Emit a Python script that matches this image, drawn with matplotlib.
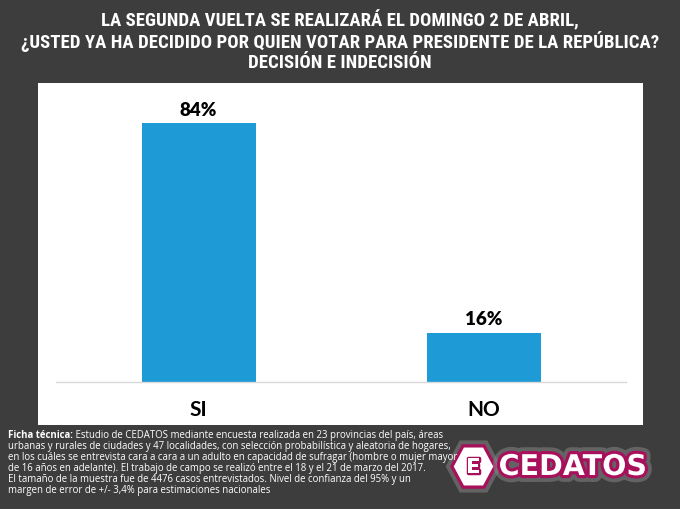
import matplotlib
matplotlib.use("Agg")
import matplotlib.pyplot as plt
from matplotlib.patches import Rectangle, Polygon
import matplotlib.patheffects as pe
from matplotlib import font_manager

categories = ["SI", "NO"]
values = [84, 16]
value_labels = ["84%", "16%"]

title_lines = [
    "LA SEGUNDA VUELTA SE REALIZARÁ EL DOMINGO 2 DE ABRIL,",
    "¿USTED YA HA DECIDIDO POR QUIEN VOTAR PARA PRESIDENTE DE LA REPÚBLICA?",
    "DECISIÓN E INDECISIÓN",
]
note_bold = "Ficha técnica:"
note_lines = [
    " Estudio de CEDATOS mediante encuesta realizada en 23 provincias del país, áreas",
    "urbanas y rurales de ciudades y 47 localidades, con selección probabilística y aleatoria de hogares,",
    "en los cuáles se entrevista cara a cara a un adulto en capacidad de sufragar (hombre o mujer mayor",
    "de 16 años en adelante). El trabajo de campo se realizó entre el 18 y el 21 de marzo del 2017.",
    "El tamaño de la muestra fue de 4476 casos entrevistados. Nivel de confianza del 95% y un",
    "margen de error de +/- 3,4% para estimaciones nacionales",
]

W, H = 680, 510
BG = "#3d3d3d"
BAR = "#1e9bd7"
MAG = "#a8105c"

names = {f.name for f in font_manager.fontManager.ttflist}
narrow = None
for cand in ["Liberation Sans Narrow", "DejaVu Sans Condensed", "Roboto Condensed",
             "Open Sans Condensed", "Noto Sans Condensed", "Roboto", "Liberation Sans"]:
    if cand in names:
        narrow = cand
        break
narrow_fam = [narrow, "DejaVu Sans"] if narrow else ["DejaVu Sans"]

fig = plt.figure(figsize=(W / 100, H / 100), dpi=100, facecolor=BG)

def fx(x):
    return x / W

def fy(y):
    return 1 - y / H

# white panel
fig.patches.append(Rectangle((fx(38), fy(426)), fx(643) - fx(38), fy(84) - fy(426),
                             transform=fig.transFigure, facecolor="white",
                             edgecolor="none", zorder=-5))

# axes
ax_bottom, ax_top = 383, 106
ax = fig.add_axes([fx(56), fy(ax_bottom), fx(626) - fx(56), fy(ax_top) - fy(ax_bottom)])
ax.set_zorder(2)
ax.set_facecolor("none")
x = list(range(len(categories)))
ax.bar(x, values, width=0.4, color=BAR, zorder=2)
ax.set_xlim(-0.5, len(categories) - 0.5)
ax.set_ylim(0, 90)
for s in ["top", "left", "right"]:
    ax.spines[s].set_visible(False)
ax.spines["bottom"].set_color("#d9d9d9")
ax.spines["bottom"].set_linewidth(1.0)
ax.set_yticks([])
ax.set_xticks(x)
ax.set_xticklabels(categories, fontsize=15, fontweight="bold",
                   family=["Lato", "DejaVu Sans"], color="black")
ax.tick_params(axis="x", length=0, pad=12)
for xi, v, lab in zip(x, values, value_labels):
    ax.annotate(lab, (xi, v), xytext=(0, 4), textcoords="offset points",
                ha="center", va="bottom", fontsize=13.5, fontweight="heavy",
                family=["Lato", "DejaVu Sans"], color="black")

# title: size chosen so that the long line spans ~658 px
fig.canvas.draw()
probe = fig.text(0, 0, title_lines[1], fontsize=10, fontweight="bold", family=narrow_fam)
fig.canvas.draw()
wprobe = probe.get_window_extent().width
probe.remove()
tsize = min(10 * 658 / wprobe, 13.5)
for i, line in enumerate(title_lines):
    fig.text(0.5, fy(20 + i * 21.5), line, ha="center", va="center", color="white",
             fontsize=tsize, fontweight="bold", family=narrow_fam)

# footnote
note_font = ["Open Sans", "DejaVu Sans"]
fs = 6.9
base0 = 438
t0 = fig.text(fx(8), fy(base0), note_bold, ha="left", va="baseline", color="white",
              fontsize=fs, fontweight="bold", family=note_font)
fig.canvas.draw()
bb = t0.get_window_extent()
fig.text(bb.x1 / W, fy(base0), note_lines[0], ha="left", va="baseline", color="white",
         fontsize=fs, family=note_font)
for i, line in enumerate(note_lines[1:], start=1):
    fig.text(fx(8), fy(base0 + 11 * i), line, ha="left", va="baseline", color="white",
             fontsize=fs, family=note_font)

# logo
hexagon = Polygon([(fx(452), fy(467.5)), (fx(463), fy(447)), (fx(484), fy(447)),
                   (fx(495), fy(467.5)), (fx(484), fy(488)), (fx(463), fy(488))],
                  closed=True, transform=fig.transFigure, facecolor="white",
                  edgecolor=MAG, linewidth=2.2, zorder=3)
hexagon.set_path_effects([pe.withStroke(linewidth=8, foreground="#8a8a8a", alpha=0.5),
                          pe.Normal()])
fig.patches.append(hexagon)
fig.text(fx(473.5), fy(468), "E", ha="center", va="center", fontsize=15,
         fontweight="bold", color="white", family=["DejaVu Sans"], zorder=4,
         path_effects=[pe.withStroke(linewidth=2.5, foreground=MAG)])

logo = fig.text(fx(572.5), fy(468), "CEDATOS", ha="center", va="center", fontsize=20,
                fontweight="bold", color="white", family=["DejaVu Sans"], zorder=4,
                path_effects=[pe.withStroke(linewidth=10, foreground="#8a8a8a", alpha=0.5),
                              pe.withStroke(linewidth=4.5, foreground=MAG)])
fig.canvas.draw()
lw = logo.get_window_extent().width
logo.set_fontsize(20 * 148 / lw)

fig.savefig("out.png", dpi=100, facecolor=BG)
